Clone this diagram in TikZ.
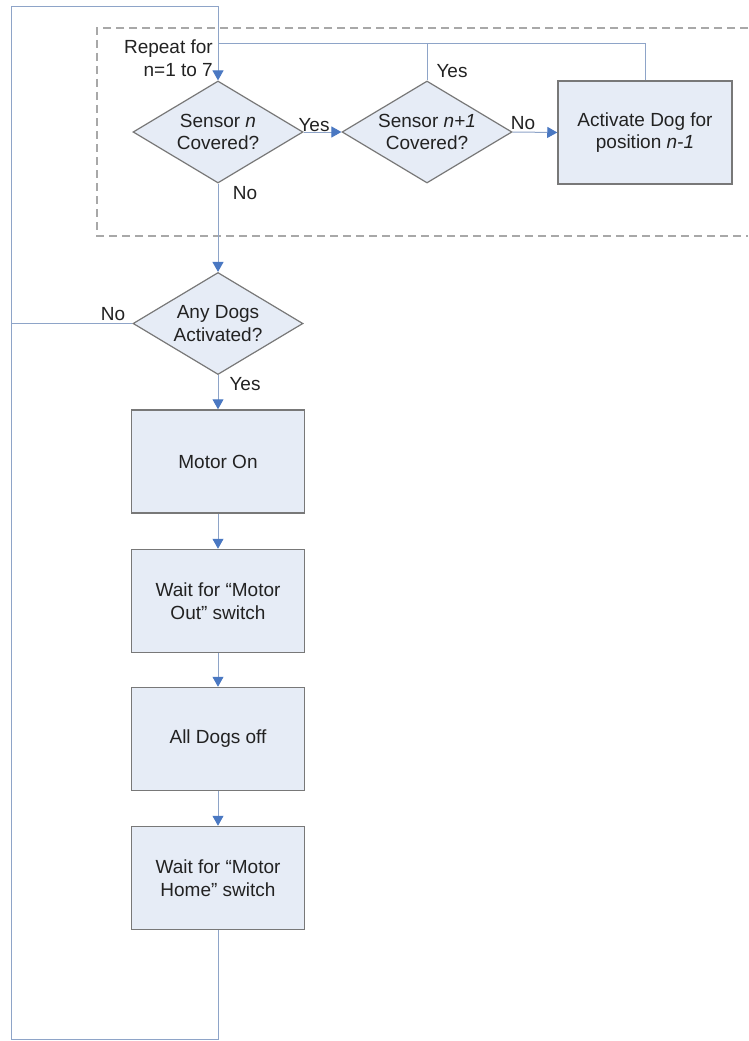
\documentclass[tikz,border=0pt]{standalone}
\usepackage{fontspec}
\setmainfont{Liberation Sans}
\usetikzlibrary{shapes.geometric,arrows.meta}
\definecolor{fillc}{HTML}{E6ECF6}
\definecolor{edgec}{HTML}{787878}
\definecolor{linec}{HTML}{8EA4C8}
\definecolor{tipc}{HTML}{4A78C2}
\definecolor{dashc}{HTML}{A8A8A8}
\definecolor{textc}{HTML}{222222}
\begin{document}
\begin{tikzpicture}[x=1pt,y=-1pt,
  every node/.style={font=\fontsize{19}{22.5}\selectfont, text=textc},
  dec/.style={diamond, draw=edgec, fill=fillc, line width=1.2pt, aspect=1.67,
    inner sep=0pt, minimum width=170pt, minimum height=102pt, align=center},
  proc/.style={rectangle, draw=edgec, fill=fillc, line width=1.5pt,
    minimum width=173pt, minimum height=103pt, align=center},
  conn/.style={draw=linec, line width=1pt},
  arr/.style={conn, -{Triangle[width=11pt,length=10pt,color=tipc,fill=tipc]}},
  lbl/.style={inner sep=0pt}
]
\useasboundingbox (0,0) rectangle (748,1041);
\fill[white] (0,0) rectangle (748,1041);

% dashed loop region
\draw[dashc, line width=2pt, dash pattern=on 8pt off 5pt]
  (748,28) -- (97,28) -- (97,236) -- (748,236);

% nodes
\node[dec] (d1) at (218,132) {Sensor \textit{n}\\Covered?};
\node[dec] (d2) at (427,132) {Sensor \textit{n+1}\\Covered?};
\node[proc, minimum width=174pt] (act) at (645,132.5) {Activate Dog for\\position \textit{n-1}};
\node[dec] (d3) at (218,323.5) {Any Dogs\\Activated?};
\node[proc] (b1) at (218,461.5) {Motor On};
\node[proc] (b2) at (218,601) {Wait for “Motor\\Out” switch};
\node[proc] (b3) at (218,739) {All Dogs off};
\node[proc] (b4) at (218,878) {Wait for “Motor\\Home” switch};

\node[lbl, align=right, anchor=east] (rep) at (213,58) {Repeat for\\n=1 to 7};

% coordinates
\coordinate (tl) at (11,7);
\coordinate (tr) at (218,7);
\coordinate (bl) at (11,1039);
\coordinate (br) at (218,1039);
\coordinate (j) at (218,44);
\coordinate (j2) at (427,44);
\coordinate (jr) at (645,44);
\coordinate (lw) at (11,323.5);

% connectors
\draw[conn] (b4.south) -- (br) -- (bl) -- (tl) -- (tr) -- (j);
\draw[arr] (j) -- (d1.north);
\draw[conn] (act.north) -- (jr) -- (j);
\draw[conn] (d2.north) -- (j2);
\draw[conn] (d3.west) -- (lw);
\draw[arr] (d1.east) -- (d2.west);
\draw[arr] (d2.east) -- (act.west);
\draw[arr] (d1.south) -- (d3.north);
\draw[arr] (d3.south) -- (b1.north);
\draw[arr] (b1.south) -- (b2.north);
\draw[arr] (b2.south) -- (b3.north);
\draw[arr] (b3.south) -- (b4.north);

% labels
\node[lbl] (y1) at (314,125) {Yes};
\node[lbl] (n1) at (523,123) {No};
\node[lbl] (y2) at (452,71) {Yes};
\node[lbl] (n2) at (245,193) {No};
\node[lbl] (n3) at (113,314) {No};
\node[lbl] (y3) at (245,384) {Yes};
\end{tikzpicture}
\end{document}
